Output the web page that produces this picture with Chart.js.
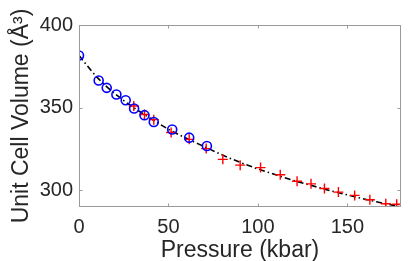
<!DOCTYPE html>
<html lang="en">
<head>
  <meta charset="UTF-8" />
  <title>Unit Cell Volume vs Pressure</title>
  <script src="https://cdn.jsdelivr.net/npm/chart.js"></script>
  <style>
    html, body { margin: 0; padding: 0; background: #fff; }
    #wrap { width: 415px; height: 261px; }
  </style>
</head>
<body>
  <div id="wrap"><canvas id="grafica" width="415" height="261"></canvas></div>

  <script>
    // measured points (circles)
    const circP = [0, 11, 15.5, 20.9, 26.1, 30.8, 36.6, 41.8, 52.1, 61.6, 71.5];
    const circV = [381.6, 366.5, 362, 358, 354.5, 349.5, 345.5, 341.4, 336.8, 331.9, 326.9];

    // measured points (crosses)
    const crossP = [30.6, 36.6, 41.8, 51.5, 61.6, 71.1, 80.4, 90.1, 101.5, 112.5, 121.9, 129.7, 137.2, 145, 154.1, 162.6, 171.5, 177.6];
    const crossV = [351, 345.9, 342.8, 335, 330.9, 325.3, 318.8, 315.3, 313.8, 309.5, 305.6, 304, 301.2, 299, 297, 294.4, 292, 291.7];

    // fit curve
    const fitP = [0, 10, 20, 30, 40, 50, 60, 70, 80, 90, 100, 110, 120, 130, 140, 150, 160, 170, 180];
    const fitV = [381.5, 368.5, 358.5, 350.5, 343.5, 337, 331.5, 326.5, 321.5, 317, 313, 309.5, 306, 303, 300, 297.3, 294.7, 292.3, 290];

    const xTicks = [0, 50, 100, 150];
    const yTicks = [300, 350, 400];

    const toPts = (xs, ys) => xs.map((x, i) => ({ x: x, y: ys[i] }));

    const colorTexto = '#262626';
    const colorEje = '#9a9a9a';
    const fuente = 'Liberation Sans, Arial, Helvetica, sans-serif';

    // box + inward ticks like matlab
    const cajaEjes = {
      id: 'cajaEjes',
      afterDraw(chart) {
        const { ctx, chartArea: a, scales } = chart;
        const L = 3.5;
        ctx.save();
        ctx.strokeStyle = colorEje;
        ctx.lineWidth = 1;
        ctx.strokeRect(a.left + 0.5, a.top + 0.5, a.right - a.left - 1, a.bottom - a.top - 1);
        ctx.beginPath();
        xTicks.forEach(v => {
          const px = Math.round(scales.x.getPixelForValue(v)) + 0.5;
          ctx.moveTo(px, a.bottom); ctx.lineTo(px, a.bottom - L);
          ctx.moveTo(px, a.top); ctx.lineTo(px, a.top + L);
        });
        yTicks.forEach(v => {
          const py = Math.round(scales.y.getPixelForValue(v)) + 0.5;
          ctx.moveTo(a.left, py); ctx.lineTo(a.left + L, py);
          ctx.moveTo(a.right, py); ctx.lineTo(a.right - L, py);
        });
        ctx.stroke();
        ctx.restore();
      }
    };

    new Chart(document.getElementById('grafica'), {
      type: 'scatter',
      data: {
        datasets: [
          {
            label: 'fit',
            type: 'line',
            data: toPts(fitP, fitV),
            borderColor: '#000',
            borderWidth: 1.6,
            borderDash: [6, 3, 1.5, 3],
            pointRadius: 0,
            cubicInterpolationMode: 'monotone',
            fill: false,
            order: 3
          },
          {
            label: 'cruces',
            data: toPts(crossP, crossV),
            pointStyle: 'cross',
            pointRadius: 5,
            borderColor: '#ff0000',
            borderWidth: 1.4,
            order: 2
          },
          {
            label: 'circulos',
            data: toPts(circP, circV),
            pointStyle: 'circle',
            pointRadius: 4.5,
            borderColor: '#0000ff',
            backgroundColor: 'rgba(0,0,0,0)',
            borderWidth: 1.6,
            order: 1
          }
        ]
      },
      options: {
        responsive: false,
        animation: false,
        layout: { padding: { left: 0, right: 14, top: 25, bottom: 0 } },
        plugins: { legend: { display: false }, tooltip: { enabled: false } },
        scales: {
          x: {
            type: 'linear',
            min: 0, max: 180,
            afterBuildTicks: s => { s.ticks = xTicks.map(v => ({ value: v })); },
            afterFit: s => { s.height = 54; },
            grid: { display: false, drawTicks: false },
            border: { display: false },
            ticks: { color: colorTexto, padding: 8, font: { family: fuente, size: 20 } },
            title: {
              display: true,
              text: 'Pressure (kbar)',
              color: colorTexto,
              padding: { top: 0, bottom: 0 },
              font: { family: fuente, size: 23, lineHeight: 0.87 }
            }
          },
          y: {
            type: 'linear',
            min: 290, max: 400,
            afterBuildTicks: s => { s.ticks = yTicks.map(v => ({ value: v })); },
            afterFit: s => { s.width = 79; },
            grid: { display: false, drawTicks: false },
            border: { display: false },
            ticks: { color: colorTexto, padding: 6, font: { family: fuente, size: 20 } },
            title: {
              display: true,
              text: 'Unit Cell Volume (Å³)',
              color: colorTexto,
              padding: { top: 8, bottom: 0 },
              font: { family: fuente, size: 23 }
            }
          }
        }
      },
      plugins: [cajaEjes]
    });
  </script>
</body>
</html>
